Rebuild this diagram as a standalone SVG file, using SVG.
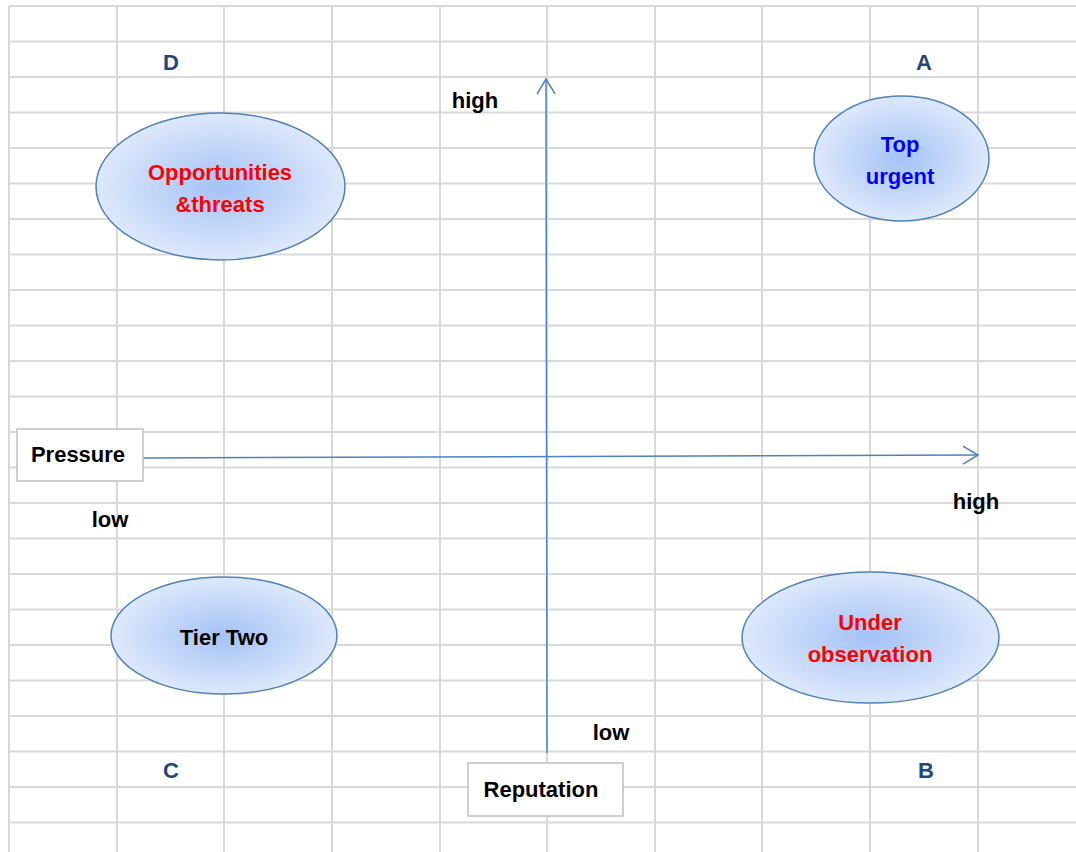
<svg xmlns="http://www.w3.org/2000/svg" width="1076" height="852" viewBox="0 0 1076 852">
<style>
.grid line{stroke:#d9d9d9;stroke-width:2}
.t{font-family:"Liberation Sans",Arial,sans-serif;font-weight:bold;font-size:22px;text-anchor:middle}
.blk{fill:#000}
.red{fill:#ff0000}
.blue{fill:#0000ff}
.hdr{fill:#1f497d}
.ell{fill:url(#rg);stroke:#4f81bd;stroke-width:1.5}
.box{fill:#fff;stroke:#bfbfbf;stroke-width:1.5}
.ax{stroke:#4f81bd;stroke-width:1.5;fill:none}
</style>
<defs>
<radialGradient id="rg" cx="50%" cy="50%" r="50%">
<stop offset="0" stop-color="#a4c2f7"/>
<stop offset="1" stop-color="#dde8fb"/>
</radialGradient>
<marker id="arr" viewBox="0 0 20 20" refX="16" refY="10" markerWidth="20" markerHeight="20" markerUnits="userSpaceOnUse" orient="auto">
<path d="M1,1 L16,10 L1,19" fill="none" stroke="#4f81bd" stroke-width="1.5"/>
</marker>
</defs>
<rect width="1076" height="852" fill="#fff"/>
<g class="grid">
<line x1="9" y1="6" x2="1076" y2="6"/>
<line x1="9" y1="41.5" x2="1076" y2="41.5"/>
<line x1="9" y1="77" x2="1076" y2="77"/>
<line x1="9" y1="112.5" x2="1076" y2="112.5"/>
<line x1="9" y1="148" x2="1076" y2="148"/>
<line x1="9" y1="183.5" x2="1076" y2="183.5"/>
<line x1="9" y1="219" x2="1076" y2="219"/>
<line x1="9" y1="254.5" x2="1076" y2="254.5"/>
<line x1="9" y1="290" x2="1076" y2="290"/>
<line x1="9" y1="325.5" x2="1076" y2="325.5"/>
<line x1="9" y1="361" x2="1076" y2="361"/>
<line x1="9" y1="396.5" x2="1076" y2="396.5"/>
<line x1="9" y1="432" x2="1076" y2="432"/>
<line x1="9" y1="467.5" x2="1076" y2="467.5"/>
<line x1="9" y1="503" x2="1076" y2="503"/>
<line x1="9" y1="538.5" x2="1076" y2="538.5"/>
<line x1="9" y1="574" x2="1076" y2="574"/>
<line x1="9" y1="609.5" x2="1076" y2="609.5"/>
<line x1="9" y1="645" x2="1076" y2="645"/>
<line x1="9" y1="680.5" x2="1076" y2="680.5"/>
<line x1="9" y1="716" x2="1076" y2="716"/>
<line x1="9" y1="751.5" x2="1076" y2="751.5"/>
<line x1="9" y1="787" x2="1076" y2="787"/>
<line x1="9" y1="822.5" x2="1076" y2="822.5"/>
<line x1="9" y1="6" x2="9" y2="852"/>
<line x1="117" y1="6" x2="117" y2="852"/>
<line x1="224" y1="6" x2="224" y2="852"/>
<line x1="332" y1="6" x2="332" y2="852"/>
<line x1="440" y1="6" x2="440" y2="852"/>
<line x1="547" y1="6" x2="547" y2="852"/>
<line x1="655" y1="6" x2="655" y2="852"/>
<line x1="762" y1="6" x2="762" y2="852"/>
<line x1="870" y1="6" x2="870" y2="852"/>
<line x1="978" y1="6" x2="978" y2="852"/>
</g>
<g id="connectors">
<line class="ax" x1="547" y1="753" x2="546" y2="79" marker-end="url(#arr)"/>
<line class="ax" x1="143" y1="458" x2="978" y2="455" marker-end="url(#arr)"/>
</g>
<g id="quadrant-labels">
<text class="t hdr" x="171" y="70">D</text>
<text class="t hdr" x="924" y="70">A</text>
<text class="t hdr" x="171" y="778">C</text>
<text class="t hdr" x="926" y="778">B</text>
</g>
<g id="axis-labels">
<text class="t blk" x="475" y="108">high</text>
<text class="t blk" x="976" y="509">high</text>
<text class="t blk" x="110" y="527">low</text>
<text class="t blk" x="611" y="740">low</text>
</g>
<g id="pressure">
<rect class="box" x="17" y="429" width="126" height="52"/>
<text class="t blk" x="78" y="462">Pressure</text>
</g>
<g id="reputation">
<rect class="box" x="468" y="763" width="155" height="53"/>
<text class="t blk" x="541" y="797">Reputation</text>
</g>
<g id="node-d">
<ellipse class="ell" cx="220.5" cy="186.5" rx="124.5" ry="73.5"/>
<text class="t red" x="220" y="180">Opportunities</text>
<text class="t red" x="220" y="212">&amp;threats</text>
</g>
<g id="node-a">
<ellipse class="ell" cx="901.5" cy="158.5" rx="87.5" ry="62.5"/>
<text class="t blue" x="900" y="152">Top</text>
<text class="t blue" x="900" y="184">urgent</text>
</g>
<g id="node-c">
<ellipse class="ell" cx="224" cy="635.5" rx="113" ry="58.5"/>
<text class="t blk" x="224" y="645">Tier Two</text>
</g>
<g id="node-b">
<ellipse class="ell" cx="870.5" cy="637.5" rx="128.5" ry="65.5"/>
<text class="t red" x="870" y="630">Under</text>
<text class="t red" x="870" y="662">observation</text>
</g>
</svg>
